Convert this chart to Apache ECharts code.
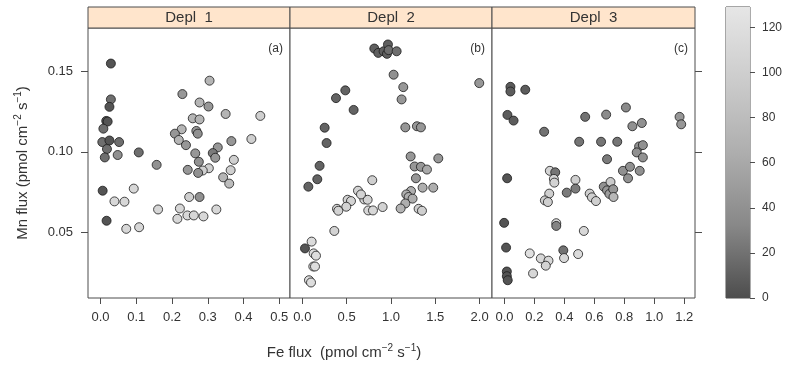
<!DOCTYPE html>
<html>
<head>
<meta charset="utf-8">
<script src="https://cdn.jsdelivr.net/npm/echarts@6/dist/echarts.min.js"></script>
<style>
  html, body { margin: 0; padding: 0; background: #fff; }
  #chart { width: 785px; height: 369px; }
</style>
</head>
<body>
<div id="chart"></div>
<script>
// panel titles and tags
const panelNames = ["Depl  1", "Depl  2", "Depl  3"];
const panelTags = ["(a)", "(b)", "(c)"];

// tick values
const yTicks = [0.05, 0.10, 0.15];
const xTicks1 = [0, 0.1, 0.2, 0.3, 0.4, 0.5];
const xTicks2 = [0, 0.5, 1.0, 1.5, 2.0];
const xTicks3 = [0, 0.2, 0.4, 0.6, 0.8, 1.0, 1.2];
const colorTicks = [0, 20, 40, 60, 80, 100, 120];
const colorRange = [0, 129];

// Depl 1
const depl1Fe = [0.029,0.029,0.025,0.016,0.020,0.008,0.005,0.025,0.052,0.018,0.012,0.048,0.107,0.157,0.006,0.093,0.039,0.067,0.017,0.072,0.108,0.305,0.229,0.277,0.302,0.350,0.447,0.258,0.277,0.227,0.208,0.268,0.272,0.219,0.239,0.422,0.366,0.328,0.265,0.314,0.321,0.275,0.373,0.244,0.303,0.286,0.273,0.364,0.343,0.360,0.248,0.277,0.222,0.324,0.161,0.215,0.243,0.261,0.288];
const depl1Mn = [0.1546,0.1324,0.1278,0.1191,0.1187,0.1143,0.106,0.107,0.106,0.1017,0.0965,0.098,0.0996,0.0919,0.0759,0.0772,0.0693,0.0691,0.0573,0.0523,0.0533,0.144,0.1357,0.1305,0.128,0.1234,0.1222,0.1207,0.120,0.1139,0.1112,0.1129,0.1112,0.1073,0.1041,0.1079,0.1066,0.1027,0.099,0.0992,0.0963,0.0938,0.095,0.0888,0.0898,0.0884,0.0869,0.0886,0.0842,0.0803,0.072,0.072,0.0649,0.0643,0.0643,0.0585,0.0606,0.0606,0.06];
const depl1Z = [4,18,4,4,4,18,18,4,18,18,18,40,18,40,4,110,110,110,4,110,110,72,45,72,45,72,100,72,72,72,45,45,40,72,45,100,45,45,45,25,45,40,100,45,100,100,40,100,72,80,100,40,110,110,110,110,110,110,110];

// Depl 2
const depl2Fe = [0.812,0.857,0.917,0.966,0.955,0.974,1.064,1.03,1.139,1.12,0.485,0.38,0.579,0.252,0.274,0.195,0.169,0.068,1.162,1.293,1.338,1.534,1.222,1.267,1.338,1.406,1.282,1.357,1.477,1.226,1.173,1.199,1.244,1.162,1.109,1.312,1.35,1.996,0.789,0.628,0.511,0.549,0.496,0.391,0.406,0.699,0.737,0.744,0.797,0.906,0.361,0.105,0.03,0.128,0.154,0.124,0.143,0.075,0.098,0.662];
const depl2Mn = [0.1639,0.1612,0.1622,0.1664,0.1606,0.1629,0.1622,0.1477,0.140,0.1324,0.138,0.1332,0.1259,0.1149,0.1054,0.0913,0.083,0.0784,0.1151,0.1158,0.1151,0.0959,0.0971,0.0909,0.0907,0.089,0.0836,0.0778,0.0778,0.0757,0.0736,0.072,0.071,0.068,0.0649,0.0647,0.0635,0.1425,0.0824,0.0759,0.0703,0.0695,0.066,0.0647,0.0635,0.0705,0.0703,0.0637,0.0637,0.0658,0.051,0.0444,0.0402,0.0371,0.0357,0.029,0.029,0.0205,0.0191,0.0736];
const depl2Z = [10,10,10,10,10,18,18,40,45,45,12,12,12,12,12,12,12,12,45,45,45,45,45,45,45,60,45,65,65,65,65,65,65,65,70,100,100,45,100,105,105,105,105,105,105,105,105,110,110,105,105,115,4,118,118,118,118,118,118,105];

// Depl 3
const depl3Fe = [0.04,0.04,0.139,0.02,0.061,0.265,0.539,0.679,0.811,0.854,0.917,1.169,1.18,0.499,0.645,0.753,0.899,0.924,0.883,0.924,0.685,0.791,0.838,0.903,0.825,0.018,0.303,0.339,0.33,0.333,0.474,0.474,0.416,0.299,0.27,0.29,0.569,0.584,0.611,0.663,0.708,0.685,0.701,0.726,0.728,-0.002,0.346,0.346,0.53,0.011,0.393,0.398,0.492,0.169,0.243,0.294,0.276,0.191,0.016,0.016,0.022];
const depl3Mn = [0.1402,0.1373,0.1384,0.1228,0.1193,0.1124,0.1216,0.123,0.1274,0.1158,0.1178,0.1216,0.117,0.1062,0.1062,0.1062,0.1033,0.1041,0.0996,0.0965,0.0954,0.0882,0.0907,0.0882,0.0836,0.0836,0.0882,0.0873,0.0832,0.0809,0.0826,0.0772,0.0747,0.0741,0.0699,0.0689,0.0741,0.0718,0.0695,0.0784,0.0813,0.0761,0.0739,0.0768,0.072,0.056,0.0558,0.0541,0.051,0.0407,0.039,0.0342,0.0367,0.0371,0.034,0.0326,0.0295,0.0247,0.0259,0.023,0.0205];
const depl3Z = [8,8,8,8,8,20,20,35,35,40,40,45,45,22,22,22,40,40,40,40,25,40,40,40,40,4,105,22,105,105,100,25,25,100,100,100,100,100,100,40,95,45,50,45,75,4,110,30,110,4,20,110,115,120,110,110,105,110,4,4,4];

const grayStops = ["#4d4d4d", "#888888", "#aeaeae", "#cccccc", "#e6e6e6"];
const FONT = "Liberation Sans, Arial, sans-serif";
const NARROW = "Liberation Sans Narrow, Liberation Sans, Arial, sans-serif";
const AXIS_COL = "#4d4d4d";
const TXT = "#333";

const panels = [
  { left: 88, width: 202, xMin: -0.035, xMax: 0.53, ticks: xTicks1 },
  { left: 290, width: 202, xMin: -0.139, xMax: 2.14, ticks: xTicks2 },
  { left: 492, width: 203, xMin: -0.083, xMax: 1.272, ticks: xTicks3 },
];
const TOP = 28, HEIGHT = 270;

function pts(fe, mn, z) {
  return fe.map((x, i) => [x, mn[i], z[i]]);
}

const chart = echarts.init(document.getElementById("chart"));

const grid = panels.map(p => ({
  left: p.left, top: TOP, width: p.width, height: HEIGHT,
  show: true, borderColor: AXIS_COL, borderWidth: 1, backgroundColor: "#fff",
}));
grid.push({ left: 726, top: 7, width: 24, height: 291, show: true, borderColor: AXIS_COL, borderWidth: 1 });

const xAxis = panels.map((p, i) => ({
  type: "value", gridIndex: i, min: p.xMin, max: p.xMax, position: "bottom",
  splitLine: { show: false },
  axisLine: { show: false, onZero: false },
  axisTick: { show: true, inside: false, length: 6, customValues: p.ticks, lineStyle: { color: AXIS_COL } },
  axisLabel: {
    show: true, customValues: p.ticks, margin: 13, color: TXT,
    fontFamily: NARROW, fontSize: 13, formatter: v => v.toFixed(1),
  },
}));
xAxis.push({ type: "category", gridIndex: 3, data: ["c"], show: false });

const yAxis = panels.map((p, i) => ({
  type: "value", gridIndex: i, min: 0.0095, max: 0.1766,
  position: i === 2 ? "right" : "left",
  splitLine: { show: false },
  axisLine: { show: false, onZero: false },
  axisTick: { show: i !== 1, inside: false, length: 7, customValues: yTicks, lineStyle: { color: AXIS_COL } },
  axisLabel: {
    show: i === 0, customValues: yTicks, margin: 15, color: TXT,
    fontFamily: FONT, fontSize: 13, formatter: v => v.toFixed(2),
  },
  name: i === 0 ? "Mn flux (pmol cm{s|−2} s{s|−1})" : "",
  nameLocation: "middle", nameRotate: 90, nameGap: 56,
  nameTextStyle: {
    color: TXT, fontFamily: NARROW, fontSize: 15,
    rich: { s: { fontSize: 10, fontFamily: NARROW, color: TXT, padding: [0, 0, 9, 0] } },
  },
}));
yAxis.push({
  type: "value", gridIndex: 3, min: colorRange[0], max: colorRange[1], position: "right",
  splitLine: { show: false }, axisLine: { show: false, onZero: false },
  axisTick: { show: true, inside: false, length: 5, customValues: colorTicks, lineStyle: { color: AXIS_COL } },
  axisLabel: { show: true, customValues: colorTicks, margin: 12, color: TXT, fontFamily: FONT, fontSize: 12 },
});

const scatterStyle = {
  type: "scatter", symbol: "circle", symbolSize: 9,
  itemStyle: { borderColor: "#1a1a1a", borderWidth: 0.8, opacity: 1 },
  emphasis: { disabled: true },
};

const graphic = [];
panels.forEach((p, i) => {
  graphic.push({
    type: "rect", shape: { x: p.left, y: 7, width: p.width, height: 21 },
    style: { fill: "#ffe5cc", stroke: AXIS_COL, lineWidth: 1 }, z: 10,
  });
  graphic.push({
    type: "text", x: p.left + p.width / 2, y: 18, z: 11,
    style: { text: panelNames[i], fill: TXT, font: "15px " + FONT, align: "center", verticalAlign: "middle" },
  });
  graphic.push({
    type: "text", x: p.left + p.width - 7, y: 49, z: 11,
    style: { text: panelTags[i], fill: TXT, font: "12px " + FONT, align: "right", verticalAlign: "middle" },
  });
});
graphic.push({
  type: "text", x: 344, y: 353, z: 11,
  style: {
    text: "Fe flux  (pmol cm{s|−2} s{s|−1})", fill: TXT, font: "15px " + NARROW,
    align: "center", verticalAlign: "middle",
    rich: { s: { fontSize: 10, fontFamily: NARROW, fill: TXT, padding: [0, 0, 9, 0] } },
  },
});

chart.setOption({
  animation: false,
  textStyle: { fontFamily: FONT },
  grid, xAxis, yAxis, graphic,
  visualMap: {
    type: "continuous", show: false, dimension: 2, seriesIndex: [0, 1, 2],
    min: colorRange[0], max: colorRange[1], inRange: { color: grayStops },
  },
  series: [
    Object.assign({ xAxisIndex: 0, yAxisIndex: 0, data: pts(depl1Fe, depl1Mn, depl1Z) }, scatterStyle),
    Object.assign({ xAxisIndex: 1, yAxisIndex: 1, data: pts(depl2Fe, depl2Mn, depl2Z) }, scatterStyle),
    Object.assign({ xAxisIndex: 2, yAxisIndex: 2, data: pts(depl3Fe, depl3Mn, depl3Z) }, scatterStyle),
    {
      type: "bar", xAxisIndex: 3, yAxisIndex: 3, data: [colorRange[1]], barWidth: "100%",
      silent: true,
      itemStyle: {
        color: {
          type: "linear", x: 0, y: 1, x2: 0, y2: 0,
          colorStops: grayStops.map((c, i) => ({ offset: i / (grayStops.length - 1), color: c })),
        },
      },
    },
  ],
});
</script>
</body>
</html>
